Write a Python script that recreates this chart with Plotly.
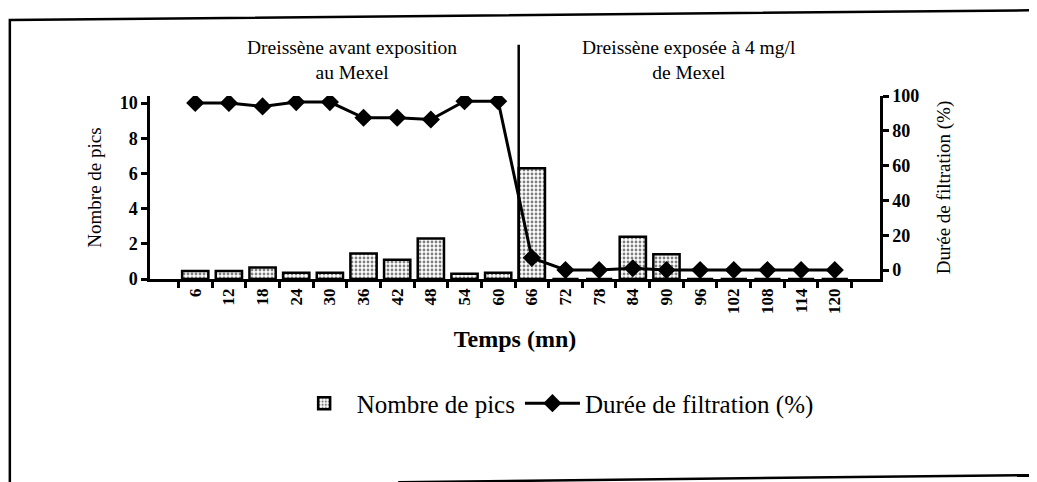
import plotly.graph_objects as go

temps = [6, 12, 18, 24, 30, 36, 42, 48, 54, 60, 66, 72, 78, 84, 90, 96, 102, 108, 114, 120]
nombre_pics = [0.45, 0.45, 0.65, 0.35, 0.35, 1.45, 1.1, 2.3, 0.3, 0.35,
               6.3, 0, 0, 2.4, 1.4, 0, 0, 0, 0, 0]
duree_filtration = [96, 96, 94, 96.5, 96.5, 87.5, 87.5, 86.5, 97, 97,
                    7, 0, 0, 1, 0, 0, 0, 0, 0, 0]
labels = [str(t) for t in temps]

SERIF = "Liberation Serif"

fig = go.Figure()
fig.add_trace(go.Bar(
    x=labels, y=nombre_pics, name="Nombre de pics",
    marker=dict(color="white", line=dict(color="black", width=2.5),
                pattern=dict(shape=".", fgcolor="black", bgcolor="white",
                             size=4, solidity=0.4)),
))
fig.add_trace(go.Scatter(
    x=labels, y=duree_filtration, name="Durée de filtration (%)", yaxis="y2",
    mode="lines+markers", line=dict(color="black", width=3),
    marker=dict(symbol="diamond", size=14, color="black"),
))

# separation avant / pendant exposition
fig.add_shape(type="line", xref="x", yref="paper", x0=9.61, x1=9.61, y0=0, y1=1.28,
              line=dict(color="black", width=2.5))
# cadre scanne (legerement incline)
fig.add_shape(type="path", xref="paper", yref="paper",
              path="M 1.25,1.47 L -0.192,1.415 L -0.192,-1.25",
              line=dict(color="black", width=2.5))
fig.add_shape(type="line", xref="paper", yref="paper", x0=0.34, y0=-1.11, x1=1.25, y1=-1.07,
              line=dict(color="black", width=2.5))

fig.add_annotation(text="Dreissène avant exposition<br>au Mexel", xref="paper", yref="paper",
                   x=0.277, y=1.197, xanchor="center", yanchor="middle", showarrow=False,
                   font=dict(family=SERIF, size=19.5, color="black"))
fig.add_annotation(text="Dreissène exposée à 4 mg/l<br>de Mexel", xref="paper", yref="paper",
                   x=0.738, y=1.197, xanchor="center", yanchor="middle", showarrow=False,
                   font=dict(family=SERIF, size=19.5, color="black"))

axis_common = dict(showline=True, linecolor="black", linewidth=2.5, ticks="outside",
                   ticklen=6, tickwidth=2.5, tickcolor="black", showgrid=False,
                   zeroline=False, automargin=False)

# la page html ajoute 8 px de marge autour de la figure
fig.update_layout(
    width=1037, height=482,
    margin=dict(l=142, r=165, t=88, b=211),
    paper_bgcolor="white", plot_bgcolor="white",
    bargap=0.22,
    font=dict(family=SERIF, color="black"),
    xaxis=dict(type="category", tickson="boundaries", tickangle=-90,
               tickfont=dict(family=SERIF, size=17, weight="bold"),
               title=dict(text="Temps (mn)", font=dict(family=SERIF, size=24, weight="bold"),
                          standoff=18),
               **axis_common),
    yaxis=dict(range=[0, 10.4], tickvals=[0, 2, 4, 6, 8, 10],
               tickfont=dict(family=SERIF, size=18, weight="bold"),
               title=dict(text="Nombre de pics", font=dict(family=SERIF, size=19), standoff=14),
               **axis_common),
    yaxis2=dict(range=[-5.17, 100], tickvals=[0, 20, 40, 60, 80, 100], overlaying="y",
                side="right",
                tickfont=dict(family=SERIF, size=18, weight="bold"),
                title=dict(text="Durée de filtration (%)", font=dict(family=SERIF, size=19),
                           standoff=19),
                **axis_common),
    legend=dict(orientation="h", x=0.555, xanchor="center", y=-0.68, yanchor="middle",
                font=dict(family=SERIF, size=25), itemwidth=55),
    showlegend=True,
)

fig.write_html("out.html")
